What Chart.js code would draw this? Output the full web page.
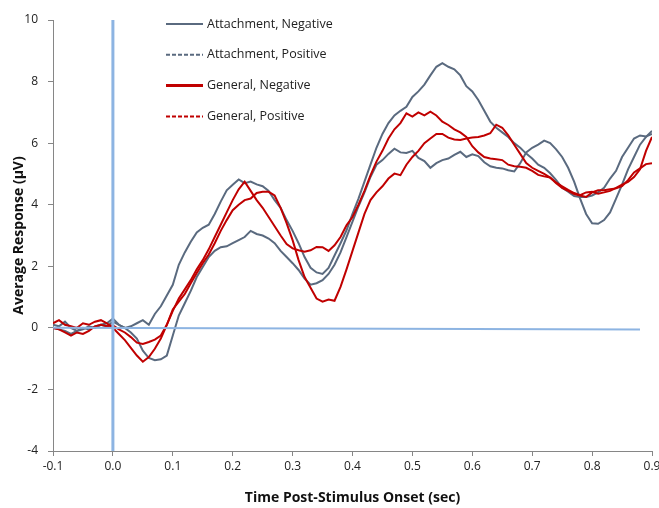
<!DOCTYPE html>
<html>
<head>
<meta charset="utf-8">
<script src="https://cdn.jsdelivr.net/npm/chart.js@4.4.1/dist/chart.umd.min.js"></script>
<style>
  html, body { margin: 0; padding: 0; background: #fff; }
  #wrap { width: 659px; height: 508px; }
</style>
</head>
<body>
<div id="wrap"><canvas id="erp"></canvas></div>
<script>
// Time points (sec), one every 10 ms
const times = [
  -0.10, -0.09, -0.08, -0.07, -0.06, -0.05, -0.04, -0.03, -0.02, -0.01,
  0.00, 0.01, 0.02, 0.03, 0.04, 0.05, 0.06, 0.07, 0.08, 0.09,
  0.10, 0.11, 0.12, 0.13, 0.14, 0.15, 0.16, 0.17, 0.18, 0.19,
  0.20, 0.21, 0.22, 0.23, 0.24, 0.25, 0.26, 0.27, 0.28, 0.29,
  0.30, 0.31, 0.32, 0.33, 0.34, 0.35, 0.36, 0.37, 0.38, 0.39,
  0.40, 0.41, 0.42, 0.43, 0.44, 0.45, 0.46, 0.47, 0.48, 0.49,
  0.50, 0.51, 0.52, 0.53, 0.54, 0.55, 0.56, 0.57, 0.58, 0.59,
  0.60, 0.61, 0.62, 0.63, 0.64, 0.65, 0.66, 0.67, 0.68, 0.69,
  0.70, 0.71, 0.72, 0.73, 0.74, 0.75, 0.76, 0.77, 0.78, 0.79,
  0.80, 0.81, 0.82, 0.83, 0.84, 0.85, 0.86, 0.87, 0.88, 0.89,
  0.90
];

// Average response (uV) per condition
const attachmentNegative = [
  0.10, 0.05, 0.20, 0.00, -0.10, -0.05, 0.05, 0.00, 0.10, 0.15,
  0.30, 0.10, 0.00, 0.05, 0.15, 0.25, 0.10, 0.45, 0.70, 1.05,
  1.40, 2.05, 2.45, 2.80, 3.10, 3.25, 3.35, 3.70, 4.10, 4.47,
  4.65, 4.82, 4.70, 4.75, 4.66, 4.60, 4.45, 4.15, 3.90, 3.50,
  3.15, 2.75, 2.30, 1.95, 1.80, 1.75, 1.95, 2.35, 2.75, 3.17,
  3.70, 4.20, 4.75, 5.30, 5.85, 6.30, 6.65, 6.90, 7.05, 7.18,
  7.50, 7.68, 7.90, 8.20, 8.48, 8.60, 8.48, 8.40, 8.20, 7.85,
  7.68, 7.40, 7.05, 6.70, 6.50, 6.35, 6.20, 6.00, 5.85, 5.66,
  5.50, 5.30, 5.20, 5.02, 4.80, 4.55, 4.42, 4.28, 4.25, 4.25,
  4.30, 4.40, 4.55, 4.85, 5.10, 5.55, 5.85, 6.15, 6.25, 6.22,
  6.30
];
const attachmentPositive = [
  0.00, -0.05, -0.10, -0.20, -0.10, 0.00, -0.05, 0.05, 0.10, 0.05,
  0.20, 0.10, 0.00, -0.15, -0.35, -0.74, -0.98, -1.05, -1.02, -0.90,
  -0.25, 0.40, 0.80, 1.20, 1.65, 1.98, 2.30, 2.50, 2.62, 2.65,
  2.75, 2.85, 2.95, 3.15, 3.05, 3.00, 2.90, 2.75, 2.50, 2.30,
  2.10, 1.88, 1.60, 1.40, 1.45, 1.55, 1.75, 2.05, 2.45, 2.95,
  3.45, 3.95, 4.40, 4.90, 5.30, 5.45, 5.65, 5.82, 5.70, 5.68,
  5.75, 5.52, 5.42, 5.20, 5.35, 5.45, 5.50, 5.62, 5.72, 5.55,
  5.64, 5.58, 5.38, 5.25, 5.20, 5.18, 5.12, 5.08, 5.35, 5.70,
  5.85, 5.95, 6.08, 6.00, 5.80, 5.55, 5.20, 4.75, 4.20, 3.70,
  3.40, 3.38, 3.50, 3.75, 4.20, 4.65, 5.15, 5.55, 5.95, 6.20,
  6.40
];
const generalNegative = [
  0.15, 0.25, 0.10, 0.05, 0.00, 0.15, 0.10, 0.20, 0.25, 0.15,
  0.00, -0.20, -0.40, -0.65, -0.90, -1.10, -0.95, -0.68, -0.35, 0.10,
  0.55, 0.95, 1.25, 1.55, 1.90, 2.20, 2.55, 2.95, 3.35, 3.75,
  4.15, 4.50, 4.75, 4.45, 4.15, 3.90, 3.60, 3.30, 3.00, 2.72,
  2.58, 2.52, 2.47, 2.52, 2.63, 2.62, 2.50, 2.68, 2.95, 3.33,
  3.60, 4.00, 4.45, 4.95, 5.40, 5.75, 6.15, 6.45, 6.65, 6.97,
  6.86, 7.00, 6.90, 7.02, 6.90, 6.70, 6.59, 6.45, 6.35, 6.20,
  5.90, 5.70, 5.55, 5.50, 5.48, 5.45, 5.30, 5.25, 5.23, 5.20,
  5.10, 4.97, 4.92, 4.88, 4.72, 4.60, 4.48, 4.38, 4.31, 4.40,
  4.42, 4.36, 4.40, 4.45, 4.55, 4.65, 4.74, 4.90, 5.15, 5.75,
  6.20
];
const generalPositive = [
  0.00, -0.05, -0.15, -0.25, -0.15, -0.20, -0.10, 0.05, 0.10, 0.05,
  0.08, -0.05, -0.15, -0.30, -0.48, -0.52, -0.46, -0.38, -0.25, 0.10,
  0.60, 0.85, 1.10, 1.45, 1.78, 2.10, 2.38, 2.75, 3.15, 3.50,
  3.82, 4.00, 4.15, 4.20, 4.38, 4.42, 4.42, 4.30, 3.90, 3.40,
  2.85, 2.20, 1.65, 1.30, 0.95, 0.85, 0.92, 0.88, 1.33, 1.90,
  2.50, 3.10, 3.70, 4.15, 4.40, 4.60, 4.85, 5.01, 4.96, 5.30,
  5.55, 5.75, 6.00, 6.15, 6.30, 6.30, 6.18, 6.12, 6.10, 6.15,
  6.18, 6.20, 6.25, 6.32, 6.60, 6.50, 6.25, 5.95, 5.65, 5.35,
  5.20, 5.10, 5.00, 4.88, 4.70, 4.55, 4.45, 4.35, 4.30, 4.25,
  4.40, 4.47, 4.47, 4.50, 4.53, 4.60, 4.80, 5.05, 5.18, 5.32,
  5.35
];

// Reference lines: stimulus onset and baseline
const onsetLine = [{ x: 0, y: -4 }, { x: 0, y: 10 }];
const baselineLine = [{ x: -0.1, y: 0 }, { x: 0.88, y: -0.05 }];

const seriesNames = ['Attachment, Negative', 'Attachment, Positive', 'General, Negative', 'General, Positive'];
const xTicks = [-0.1, 0.0, 0.1, 0.2, 0.3, 0.4, 0.5, 0.6, 0.7, 0.8, 0.9];

const GRAY = '#5a6a7f';
const RED = '#c00000';
const BLUE = '#8db4e2';
const AXIS = '#868686';
const FONT = "'Open Sans', 'DejaVu Sans', sans-serif";

// Legend drawn inside the plot, like the original
const insideLegend = {
  id: 'insideLegend',
  afterDraw(chart) {
    const ctx = chart.ctx;
    const styles = [
      { color: GRAY, dash: [], width: 2 },
      { color: GRAY, dash: [4, 2], width: 2 },
      { color: RED, dash: [], width: 3 },
      { color: RED, dash: [4, 2], width: 2 }
    ];
    ctx.save();
    ctx.font = '12.5px ' + FONT;
    ctx.textBaseline = 'middle';
    seriesNames.forEach((name, i) => {
      const y = 24 + i * 30.8;
      const s = styles[i];
      ctx.beginPath();
      ctx.setLineDash(s.dash);
      ctx.strokeStyle = s.color;
      ctx.lineWidth = s.width;
      ctx.moveTo(166, y);
      ctx.lineTo(203, y);
      ctx.stroke();
      ctx.setLineDash([]);
      ctx.fillStyle = '#222';
      ctx.fillText(name, 207, y);
    });
    ctx.restore();
  }
};

function lineSet(label, data, color, order) {
  return {
    label: label,
    data: data,
    borderColor: color,
    borderWidth: 2,
    pointRadius: 0,
    tension: 0,
    fill: false,
    order: order
  };
}

new Chart(document.getElementById('erp'), {
  type: 'line',
  data: {
    labels: times,
    datasets: [
      { label: 'onset', data: onsetLine, borderColor: BLUE, borderWidth: 3, pointRadius: 0, order: 0 },
      { label: 'baseline', data: baselineLine, borderColor: BLUE, borderWidth: 2, pointRadius: 0, order: 0 },
      lineSet(seriesNames[0], attachmentNegative, GRAY, 2),
      lineSet(seriesNames[1], attachmentPositive, GRAY, 2),
      lineSet(seriesNames[2], generalNegative, RED, 1),
      lineSet(seriesNames[3], generalPositive, RED, 1)
    ]
  },
  options: {
    responsive: true,
    maintainAspectRatio: false,
    animation: false,
    layout: { padding: { top: 20, right: 7, left: 0, bottom: 0 } },
    plugins: {
      legend: { display: false },
      tooltip: { enabled: false }
    },
    scales: {
      x: {
        type: 'linear',
        min: -0.1,
        max: 0.9,
        afterFit: (scale) => {
          scale.height = 57;
          scale.paddingLeft = 0;
          scale.paddingRight = 0;
        },
        afterBuildTicks: (scale) => { scale.ticks = xTicks.map(v => ({ value: v })); },
        ticks: {
          color: '#222',
          font: { size: 12, family: FONT },
          padding: 3,
          maxRotation: 0,
          callback: (v) => Number(v).toFixed(1)
        },
        grid: { drawOnChartArea: false, drawTicks: true, tickLength: 5, color: AXIS },
        border: { display: true, color: AXIS, width: 1 },
        title: {
          display: true,
          text: 'Time Post-Stimulus Onset (sec)',
          color: '#111',
          font: { size: 14, weight: 'bold', family: FONT },
          padding: { top: 4, bottom: 2 }
        }
      },
      y: {
        min: -4,
        max: 10,
        afterFit: (scale) => {
          scale.width = 53;
          scale.paddingTop = 0;
          scale.paddingBottom = 0;
        },
        ticks: {
          stepSize: 2,
          color: '#222',
          font: { size: 12, family: FONT },
          padding: 10
        },
        grid: { drawOnChartArea: false, drawTicks: true, tickLength: 5, color: AXIS },
        border: { display: true, color: AXIS, width: 1 },
        title: {
          display: true,
          text: 'Average Response (µV)',
          color: '#111',
          font: { size: 14, weight: 'bold', family: FONT },
          padding: { top: 11, bottom: 4 }
        }
      }
    }
  },
  plugins: [insideLegend]
});
</script>
</body>
</html>
